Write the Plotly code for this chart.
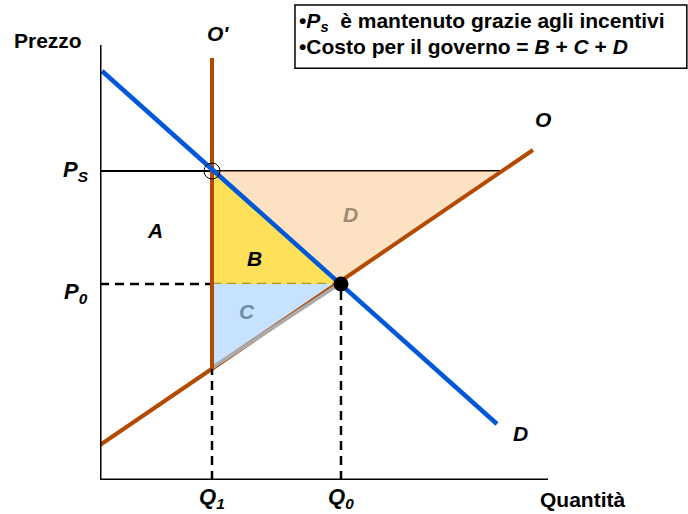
import numpy as np
import plotly.graph_objects as go

# values (1 unit = 10 px)
demand_q = [0.2, 39.7]
demand_p = [40.9, 5.6]
supply_q = [0.0, 43.3]
supply_p = [3.5, 33.0]
q_levels = {'Q1': 11.2, 'Q0': 24.1}
p_levels = {'Ps': 30.9, 'P0': 19.6}
o_prime_top = 42.2
axis_end = {'x': 44.8, 'y': 43.5}

FONT = 'Arial, Liberation Sans, sans-serif'
BROWN = '#B34A00'
BLUE = '#0057D8'
DASH = '9px,6px'

q1, q0 = q_levels['Q1'], q_levels['Q0']
ps, p0 = p_levels['Ps'], p_levels['P0']
# supply read at Q1 and at Ps
s_at_q1 = float(np.interp(q1, supply_q, supply_p))
q_at_ps = float(np.interp(ps, supply_p, supply_q))

fig = go.Figure()


def add_line(xs, ys, color, width, dash='solid'):
    fig.add_trace(go.Scatter(x=xs, y=ys, mode='lines', hoverinfo='skip',
                             line=dict(color=color, width=width, dash=dash)))


def add_area(xs, ys, color):
    fig.add_trace(go.Scatter(x=xs, y=ys, mode='lines', fill='toself', fillcolor=color,
                             line=dict(width=0), hoverinfo='skip'))


# price lines
add_line([0, q_at_ps], [ps, ps], 'black', 2)
add_line([0, q1], [p0, p0], 'black', 2.5, dash=DASH)

# areas D, B, C
add_area([q1, q_at_ps, q0, q1], [ps, ps, p0, ps], 'rgba(251,205,155,0.6)')
add_area([q1, q0, q1, q1], [ps, p0, p0, ps], 'rgba(255,208,0,0.65)')
add_line([q1, q0], [p0, p0], '#A69A2E', 2.5, dash=DASH)
add_area([q1, q0, q1, q1], [p0, p0, s_at_q1, p0], '#C6E2FF')

# supply O and the gray edge of C
add_line(supply_q, supply_p, BROWN, 4)
add_line([q1, q0], [s_at_q1 + 0.1, p0 + 0.1], '#ABABAB', 3.5)

# O' (vertical supply at Q1)
add_line([q1, q1], [s_at_q1, o_prime_top], BROWN, 4)

# quantity guides
add_line([q1, q1], [0, s_at_q1], 'black', 2.5, dash=DASH)
add_line([q0, q0], [0, p0], 'black', 2.5, dash=DASH)

# demand D
add_line(demand_q, demand_p, BLUE, 4.5)

# points
fig.add_trace(go.Scatter(x=[q1], y=[ps], mode='markers', hoverinfo='skip',
                         marker=dict(size=16, color='rgba(0,0,0,0)', line=dict(color='black', width=1))))
fig.add_trace(go.Scatter(x=[q0], y=[p0], mode='markers', hoverinfo='skip',
                         marker=dict(size=15, color='black')))

# axes
fig.add_shape(type='line', x0=0, x1=0, y0=0, y1=axis_end['y'], line=dict(color='black', width=3))
fig.add_shape(type='line', x0=0, x1=axis_end['x'], y0=0, y1=0, line=dict(color='black', width=3))

# text box
fig.add_shape(type='rect', xref='paper', yref='paper', x0=0.3316, x1=0.998, y0=0.858, y1=0.9896,
              line=dict(color='black', width=1.5), fillcolor='white')


def label(text, x, y, size=21, color='black', xshift=0, yshift=0, xanchor='center', xref='x', yref='y'):
    fig.add_annotation(x=x, y=y, xref=xref, yref=yref, text=text, showarrow=False,
                       xanchor=xanchor, yanchor='middle', xshift=xshift, yshift=yshift,
                       font=dict(family=FONT, size=size, color=color))


label('<b>•<i>P<sub>s</sub></i>  è mantenuto grazie agli incentivi</b>', 0.335, 0.955,
      size=21, xanchor='left', xref='paper', yref='paper')
label('<b>•Costo per il governo = <i>B</i> + <i>C</i> + <i>D</i></b>', 0.335, 0.903,
      size=21, xanchor='left', xref='paper', yref='paper')

label('<b>Prezzo</b>', 0, axis_end['y'], xshift=-52, yshift=5)
label('<b>Quantità</b>', axis_end['x'], 0, xshift=34, yshift=-19)
label('<b><i>P<sub>S</sub></i></b>', 0, ps, size=22, xshift=-24)
label('<b><i>P<sub>0</sub></i></b>', 0, p0, size=22, xshift=-24, yshift=-9)
label('<b><i>Q<sub>1</sub></i></b>', q1, 0, size=22, yshift=-18)
label('<b><i>Q<sub>0</sub></i></b>', q0, 0, size=22, yshift=-18)
label("<b><i>O'</i></b>", q1, o_prime_top, xshift=6, yshift=25)
label('<b><i>O</i></b>', supply_q[1], supply_p[1], xshift=10, yshift=31)
label('<b><i>D</i></b>', demand_q[1], demand_p[1], xshift=23, yshift=-9)
label('<b><i>A</i></b>', 5.5, 25.0)
label('<b><i>B</i></b>', 15.4, 22.2)
label('<b><i>C</i></b>', 14.7, 16.9, color='#6E8CAA')
label('<b><i>D</i></b>', 25.0, 26.6, color='#A08C73')

fig.update_layout(
    width=688, height=514,
    margin=dict(l=100, r=0, t=0, b=34),
    plot_bgcolor='white', paper_bgcolor='white',
    showlegend=False,
    xaxis=dict(range=[0, 58.8], visible=False, fixedrange=True),
    yaxis=dict(range=[0, 48], visible=False, fixedrange=True),
)

fig.write_html('out.html', config={'displayModeBar': False},
               post_script="document.body.style.margin = '0';")
